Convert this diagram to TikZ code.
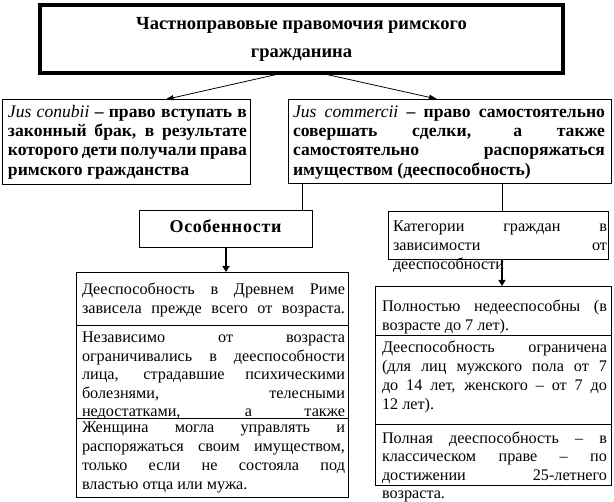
\documentclass[tikz,border=0pt]{standalone}
\usepackage{fontspec}
\setmainfont{Liberation Serif}
\usetikzlibrary{arrows.meta,calc}
\newcommand\jl[1]{\makebox[\linewidth][s]{#1}\\}
\newcommand\bft{\fontsize{17.6}{19.2}\selectfont\bfseries}
\newcommand\rgt{\fontsize{16.2}{19}\selectfont}
\begin{document}
\begin{tikzpicture}[x=1pt,y=-1pt,
  box/.style={draw, line width=0.8pt, inner sep=0pt, outer sep=0pt},
  txt/.style={inner sep=0pt, outer sep=0pt, anchor=base west},
  arr/.style={line width=0.8pt, -{Triangle[length=8pt,width=5pt]}},
  thk/.style={line width=2.4pt, -{Triangle[length=6pt,width=7pt]}},
  ln/.style={line width=0.8pt}]
\useasboundingbox (0,0) rectangle (614,502);
% boxes
\node[draw, line width=4pt, inner sep=0pt, outer sep=0pt, minimum width=523pt, minimum height=68pt] (top) at (301.5,39) {};
\node[box, minimum width=248pt, minimum height=85pt] (L1) at (126.5,142) {};
\node[box, minimum width=323.5pt, minimum height=84pt] (R1) at (449.75,141) {};
\node[box, minimum width=173pt, minimum height=37pt] (F) at (225.5,228.5) {};
\node[box, minimum width=220pt, minimum height=48pt] (K) at (498,235) {};
\node[box, minimum width=272pt, minimum height=53pt] (LB1) at (212,298.5) {};
\node[box, minimum width=272pt, minimum height=93pt] (LB2) at (212,371.5) {};
\node[box, minimum width=272pt, minimum height=79.5pt] (LB3) at (212,457.75) {};
\node[box, minimum width=236pt, minimum height=49pt] (RB1) at (493,310.5) {};
\node[box, minimum width=236pt, minimum height=89pt] (RB2) at (493,379.5) {};
\node[box, minimum width=236pt, minimum height=61.5pt] (RB3) at (493,454.75) {};
% texts
\node[inner sep=0pt, anchor=base] (ttl) at (301.5,29.4) {\parbox[t]{500pt}{\centering\fontsize{18.5}{28.6}\selectfont\bfseries Частноправовые правомочия римского\\гражданина}};
\node[txt] (tL1) at (8,117.5) {\parbox[t]{239pt}{\bft\jl{\textit{\mdseries Jus conubii} – право вступать в}\jl{законный брак, в результате}\jl{которого дети получали права}римского гражданства}};
\node[txt] (tR1) at (293,117.5) {\parbox[t]{312pt}{\bft\jl{\textit{\mdseries Jus commercii} – право самостоятельно}\jl{совершать сделки, а также}\jl{самостоятельно распоряжаться}имуществом (дееспособность)}};
\node[inner sep=0pt, anchor=base, font={\fontsize{18}{20}\selectfont\bfseries\addfontfeature{LetterSpace=4}}] (tF) at (225.5,232.7) {Особенности};
\node[txt] (tK) at (393,232) {\parbox[t]{214pt}{\rgt\jl{Категории граждан в}\jl{зависимости от}дееспособности}};
\node[txt] (tLB1) at (82,295) {\parbox[t]{263pt}{\rgt\jl{Дееспособность в Древнем Риме}\jl{зависела прежде всего от возраста.}}};
\node[txt] (tLB2) at (82,343) {\parbox[t]{263pt}{\fontsize{16.2}{18.5}\selectfont\jl{Независимо от возраста}\jl{ограничивались в дееспособности}\jl{лица, страдавшие психическими}\jl{болезнями, телесными}\jl{недостатками, а также}}};
\node[txt] (tLB3) at (82,432.5) {\parbox[t]{263pt}{\rgt\jl{Женщина могла управлять и}\jl{распоряжаться своим имуществом,}\jl{только если не состояла под}властью отца или мужа.}};
\node[txt] (tRB1) at (382,312) {\parbox[t]{225pt}{\rgt\jl{Полностью недееспособны (в}возрасте до 7 лет).}};
\node[txt] (tRB2) at (382,352.5) {\parbox[t]{225pt}{\rgt\jl{Дееспособность ограничена}\jl{(для лиц мужского пола от 7}\jl{до 14 лет, женского – от 7 до}12 лет).}};
\node[txt] (tRB3) at (382,443.5) {\parbox[t]{225pt}{\fontsize{16.2}{18.3}\selectfont\jl{Полная дееспособность – в}\jl{классическом праве – по}\jl{достижении 25-летнего}возраста.}};
% connectors
\draw[arr] ([xshift=-18.5pt]top.south) -- ($(L1.north west)!0.6573!(L1.north east)$);
\draw[arr] ([xshift=18.5pt]top.south) -- ($(R1.north west)!0.4606!(R1.north east)$);
\draw[ln] ([xshift=14pt]R1.south west) -- ([xshift=14pt]R1.south west |- F.north);
\draw[ln] ([xshift=4pt]K.north |- R1.south) -- ([xshift=4pt]K.north);
\draw[thk] ([xshift=0.5pt]F.south) -- ([xshift=0.5pt]F.south |- LB1.north);
\draw[thk] ([xshift=4pt]K.south) -- ([xshift=4pt]K.south |- RB1.north);
\end{tikzpicture}
\end{document}
